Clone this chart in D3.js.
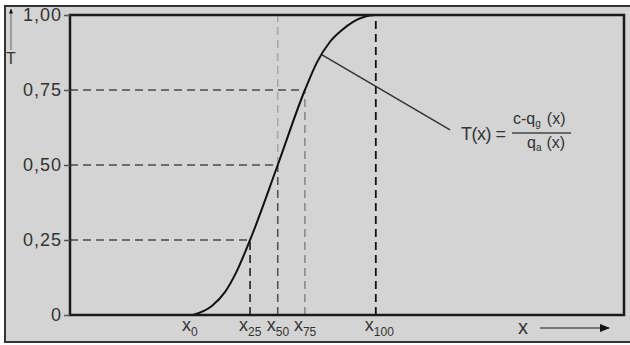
<!DOCTYPE html>
<html>
<head>
<meta charset="utf-8">
<script src="https://cdn.jsdelivr.net/npm/d3@7"></script>
<style>
  body { margin: 0; background: #fff; }
  svg { display: block; }
  text { font-family: "Liberation Sans", Arial, sans-serif; fill: #333; }
</style>
</head>
<body>
<svg id="chart" width="630" height="345"></svg>
<script>
// separation curve T(x) (x in arbitrary size units 0..100)
const curveX = [22.2, 25.6, 28.0, 30.0, 32.5, 37.5, 42.4, 44.6, 46.9, 49.1, 51.1, 53.3, 55.2];
const curveT = [0, 0.03, 0.077, 0.142, 0.25, 0.5, 0.75, 0.843, 0.91, 0.95, 0.977, 0.995, 1.0];

// quantile marks x0 .. x100
const quantX = [22.2, 32.5, 37.5, 42.4, 55.2];
const quantT = [0, 0.25, 0.5, 0.75, 1.0];
const quantLabels = ["0", "25", "50", "75", "100"];

// y axis
const yTicks = [0, 0.25, 0.5, 0.75, 1];
const yTickLabels = ["0", "0,25", "0,50", "0,75", "1,00"];

// leader line to the formula
const leaderX = [45.5, 68.6];
const leaderT = [0.867, 0.617];

const svg = d3.select("#chart");
const margin = { top: 15, right: 6, bottom: 30, left: 70 };
const W = 630, H = 345;

const x = d3.scaleLinear().domain([0, 100]).range([margin.left, W - margin.right]);
const y = d3.scaleLinear().domain([0, 1]).range([H - margin.bottom, margin.top]);

// scanned page background + outer frame
svg.append("rect")
  .attr("x", 5).attr("y", 6)
  .attr("width", 640).attr("height", 336)
  .attr("fill", "#d4d4d4")
  .attr("stroke", "#333")
  .attr("stroke-width", 2);

// dashed helper lines
const dash = "8,5";
const g = svg.append("g");

quantT.forEach((t, i) => {
  if (i === 0 || i === 4) return;
  g.append("line")
    .attr("x1", x(0)).attr("x2", x(quantX[i]))
    .attr("y1", y(t)).attr("y2", y(t))
    .attr("stroke", "#4a4a4a").attr("stroke-width", 1.6)
    .attr("stroke-dasharray", dash);
});

const vColors = [null, "#222", "#555", "#8a8a8a"];
quantT.forEach((t, i) => {
  if (i === 0 || i === 4) return;
  g.append("line")
    .attr("x1", x(quantX[i])).attr("x2", x(quantX[i]))
    .attr("y1", y(0)).attr("y2", y(t))
    .attr("stroke", vColors[i]).attr("stroke-width", 1.6)
    .attr("stroke-dasharray", dash);
});

// x50 continues faintly to the top
g.append("line")
  .attr("x1", x(quantX[2])).attr("x2", x(quantX[2]))
  .attr("y1", y(quantT[2])).attr("y2", y(1))
  .attr("stroke", "#a5a5a5").attr("stroke-width", 1.4)
  .attr("stroke-dasharray", dash);

// x100 runs the full height
g.append("line")
  .attr("x1", x(quantX[4])).attr("x2", x(quantX[4]))
  .attr("y1", y(0)).attr("y2", y(1))
  .attr("stroke", "#111").attr("stroke-width", 1.8)
  .attr("stroke-dasharray", dash);

// the curve
const pts = curveX.map((d, i) => [d, curveT[i]]);
const line = d3.line()
  .x(d => x(d[0]))
  .y(d => y(d[1]))
  .curve(d3.curveMonotoneX);

svg.append("path")
  .datum(pts)
  .attr("d", line)
  .attr("fill", "none")
  .attr("stroke", "#111")
  .attr("stroke-width", 2);

// leader line
svg.append("line")
  .attr("x1", x(leaderX[0])).attr("y1", y(leaderT[0]))
  .attr("x2", x(leaderX[1])).attr("y2", y(leaderT[1]))
  .attr("stroke", "#333").attr("stroke-width", 1.5);

// plot frame
svg.append("rect")
  .attr("x", x(0)).attr("y", y(1))
  .attr("width", x(100) - x(0)).attr("height", y(0) - y(1))
  .attr("fill", "none")
  .attr("stroke", "#1a1a1a")
  .attr("stroke-width", 2.5);

// y axis ticks + labels
const yAxis = d3.axisLeft(y)
  .tickValues(yTicks)
  .tickFormat((d, i) => yTickLabels[i])
  .tickSize(6)
  .tickPadding(2);

const ya = svg.append("g")
  .attr("transform", `translate(${x(0)},0)`)
  .call(yAxis);
ya.select(".domain").remove();
ya.selectAll(".tick line").attr("stroke", "#555").attr("stroke-width", 1.5);
ya.selectAll(".tick text")
  .attr("fill", "#444")
  .style("font-size", "18px")
  .style("letter-spacing", "1px");

// x quantile labels: x with subscript
quantX.forEach((q, i) => {
  const t = svg.append("text")
    .attr("x", x(q) - 11)
    .attr("y", 331)
    .style("font-size", "18px")
    .attr("fill", "#333");
  t.append("tspan").text("x");
  t.append("tspan")
    .attr("dy", 5)
    .style("font-size", "12px")
    .text(quantLabels[i]);
});

// axis name T with upward arrow
svg.append("defs").append("marker")
  .attr("id", "head")
  .attr("viewBox", "0 0 10 10")
  .attr("refX", 9).attr("refY", 5)
  .attr("markerWidth", 5).attr("markerHeight", 5)
  .attr("orient", "auto")
  .append("path")
  .attr("d", "M0,1L10,5L0,9Z")
  .attr("fill", "#111");

svg.append("line")
  .attr("x1", 11).attr("y1", 50)
  .attr("x2", 11).attr("y2", 9)
  .attr("stroke", "#666").attr("stroke-width", 1)
  .attr("marker-end", "url(#head)");
svg.append("text")
  .attr("x", 11).attr("y", 64)
  .attr("text-anchor", "middle")
  .style("font-size", "16px")
  .attr("fill", "#555")
  .text("T");

// axis name x with arrow
svg.append("text")
  .attr("x", 523).attr("y", 334)
  .attr("text-anchor", "middle")
  .style("font-size", "20px")
  .attr("fill", "#444")
  .text("x");
svg.append("line")
  .attr("x1", 540).attr("y1", 328)
  .attr("x2", 609).attr("y2", 328)
  .attr("stroke", "#777").attr("stroke-width", 2)
  .attr("marker-end", "url(#head)");

// formula T(x) = (c-q_g(x)) / q_a(x)
const fx = 461, fy = 140;
svg.append("text")
  .attr("x", fx).attr("y", fy)
  .style("font-size", "18px")
  .style("letter-spacing", "-0.5px")
  .text("T(x) =");

svg.append("line")
  .attr("x1", 512).attr("x2", 571)
  .attr("y1", 133).attr("y2", 133)
  .attr("stroke", "#444").attr("stroke-width", 1.3);

const num = svg.append("text")
  .attr("x", 513).attr("y", 124)
  .style("font-size", "16px");
num.append("tspan").text("c-q");
num.append("tspan").attr("dy", 3).style("font-size", "10px").text("g");
num.append("tspan").attr("dy", -3).attr("dx", 6).text("(x)");

const den = svg.append("text")
  .attr("x", 527).attr("y", 148)
  .style("font-size", "16px");
den.append("tspan").text("q");
den.append("tspan").attr("dy", 3).style("font-size", "10px").text("a");
den.append("tspan").attr("dy", -3).attr("dx", 5).text("(x)");
</script>
</body>
</html>
